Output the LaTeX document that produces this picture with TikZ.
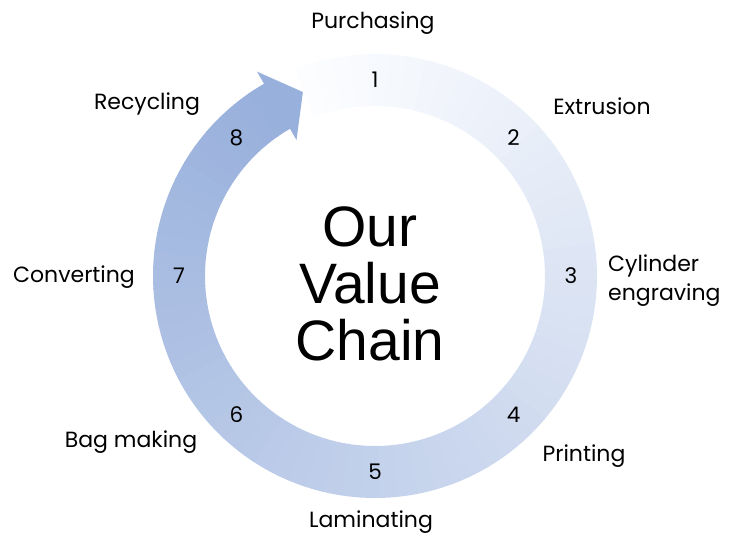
\documentclass[tikz,border=0pt]{standalone}
\usepackage{fontspec}
\setmainfont{Poppins}
\newfontfamily\titlefont{Liberation Sans}
\usetikzlibrary{calc}
\definecolor{ringlight}{RGB}{252,253,255}
\definecolor{ringdark}{RGB}{152,176,220}
\def\ringpart[#1](#2:#3){\fill[#1] (#2:222) arc (#2:#3:222) -- (#3:170) arc (#3:#2:170) -- cycle;}

\tikzset{
	steplabel/.style={font=\fontsize{22}{29}\selectfont, inner sep=0pt},
	stepnum/.style={font=\fontsize{21.5}{25}\selectfont, inner sep=0pt}
}

\begin{document}
\begin{tikzpicture}[x=1pt, y=1pt]
		%%%%% START %%%%%
		\useasboundingbox (-375, -262) rectangle (360, 276);
		
		% ring, light at the start, darker towards the head
		\foreach \i in {0,...,71}{
			\pgfmathsetmacro{\a}{111-\i*4.875}
			\pgfmathsetmacro{\b}{\a-5.1}
			\pgfmathsetmacro{\p}{\i*100/71}
			\ringpart[ringdark!\p!ringlight](\a:\b)
		}
		\fill[ringdark] (120:157) -- (111.4:197.6) -- (120:236) -- cycle;
		
		% numbers on the ring
		\foreach \n in {1,...,8}
			\node[stepnum] (num\n) at ({135-45*\n}:196) {\n};
		
		% step names
		\node[steplabel] (purchasing) at (-2, 253) {Purchasing};
		\node[steplabel] (extrusion) at (227, 170) {Extrusion};
		\node[steplabel, anchor=west, align=left] (cylinder) at (233, -5) {Cylinder\\engraving};
		\node[steplabel] (printing) at (209, -180) {Printing};
		\node[steplabel] (laminating) at (-4, -246) {Laminating};
		\node[steplabel] (bagmaking) at (-244, -166) {Bag making};
		\node[steplabel] (converting) at (-301, -1) {Converting};
		\node[steplabel] (recycling) at (-228, 172) {Recycling};
		
		\node[font=\titlefont\fontsize{57}{57}\selectfont, align=center] (title) at (-5, -8) {Our\\Value\\Chain};
		
		%%%%% END %%%%%
	\end{tikzpicture}
\end{document}
